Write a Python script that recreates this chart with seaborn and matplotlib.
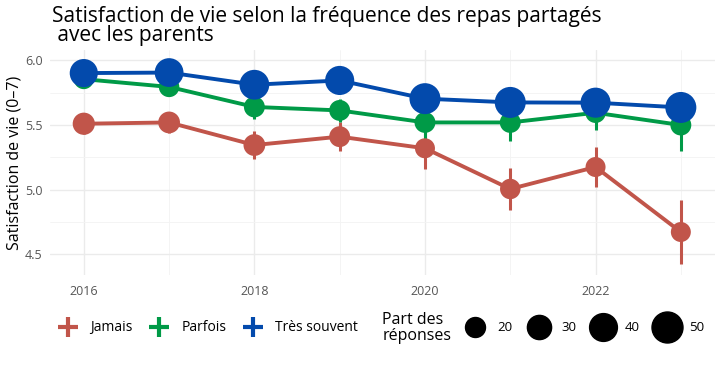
import numpy as np
import pandas as pd
import seaborn as sns
import matplotlib.pyplot as plt
from matplotlib.lines import Line2D

# data
annees = [2016, 2017, 2018, 2019, 2020, 2021, 2022, 2023]
groupes = ["Jamais", "Parfois", "Très souvent"]

score_jamais = [5.51, 5.52, 5.345, 5.41, 5.32, 5.005, 5.175, 4.672]
score_parfois = [5.855, 5.795, 5.64, 5.613, 5.52, 5.52, 5.595, 5.50]
score_souvent = [5.902, 5.906, 5.812, 5.845, 5.704, 5.675, 5.673, 5.636]

ci_jamais = [0.08, 0.08, 0.105, 0.11, 0.16, 0.16, 0.155, 0.25]
ci_parfois = [0.07, 0.07, 0.09, 0.09, 0.14, 0.14, 0.13, 0.2]
ci_souvent = [0.05, 0.05, 0.05, 0.05, 0.05, 0.05, 0.05, 0.05]

part_jamais = [25, 24, 24, 22, 20, 21, 20, 20]
part_parfois = [20, 21, 22, 22, 22, 22, 21, 22]
part_souvent = [41, 43, 46, 44, 50, 53, 47, 50]

legende_tailles = [20, 30, 40, 50]

couleurs = {"Jamais": "#C1554A", "Parfois": "#009A47", "Très souvent": "#034AAC"}

df = pd.DataFrame({
    "annee": annees * 3,
    "score": score_jamais + score_parfois + score_souvent,
    "ci": ci_jamais + ci_parfois + ci_souvent,
    "part": part_jamais + part_parfois + part_souvent,
    "freq": [g for g in groupes for _ in annees],
})

sns.set_theme(style="white")
plt.rcParams["font.family"] = ["Open Sans", "DejaVu Sans"]
plt.rcParams["text.color"] = "black"

fig = plt.figure(figsize=(7.2, 3.71), dpi=100)
ax = fig.add_axes([0.069, 0.259, 0.924, 0.606])

size_range = (207, 498)
size_norm = (20, 50)

# intervalles de confiance
for g in groupes:
    d = df[df["freq"] == g]
    ax.errorbar(d["annee"], d["score"], yerr=d["ci"], fmt="none",
                ecolor=couleurs[g], elinewidth=2.2, capsize=0, zorder=2)

sns.lineplot(data=df, x="annee", y="score", hue="freq", palette=couleurs,
             linewidth=2.8, legend=False, ax=ax, zorder=3)
sns.scatterplot(data=df, x="annee", y="score", hue="freq", palette=couleurs,
                size="part", sizes=size_range, size_norm=size_norm,
                linewidth=0, alpha=1, legend=False, ax=ax, zorder=4)

ax.set_xlim(2015.6, 2023.4)
ax.set_ylim(4.34, 6.08)
ax.set_xticks([2016, 2018, 2020, 2022])
ax.set_xticks([2017, 2019, 2021, 2023], minor=True)
ax.set_yticks([4.5, 5.0, 5.5, 6.0])
ax.set_yticks([4.75, 5.25, 5.75], minor=True)
ax.grid(which="major", color="#EBEBEB", linewidth=1.0)
ax.grid(which="minor", color="#F3F3F3", linewidth=0.6)
for s in ax.spines.values():
    s.set_visible(False)
ax.tick_params(which="both", length=0)
ax.tick_params(axis="x", labelsize=9, labelcolor="#555555", pad=7)
ax.tick_params(axis="y", labelsize=9, labelcolor="#555555", pad=5)
ax.set_xlabel("")
ax.set_ylabel("Satisfaction de vie (0–7)", fontsize=11.5, color="black")
ax.yaxis.set_label_coords(-0.041, 0.5)

fig.text(0.072, 0.985, "Satisfaction de vie selon la fréquence des repas partagés\n avec les parents",
         fontsize=15, va="top", ha="left", linespacing=0.92, color="black")

# legende couleurs
h_col = [Line2D([], [], color=couleurs[g], marker="+", markersize=15, mew=3,
                linestyle="none") for g in groupes]
fig.legend(h_col, groupes, loc="center left", bbox_to_anchor=(0.083, 0.116),
           ncol=3, frameon=False, fontsize=10, handlelength=1.2,
           handletextpad=1.0, columnspacing=1.3, borderpad=0, borderaxespad=0)

# legende tailles
fig.text(0.531, 0.116, "Part des\nréponses", fontsize=11.5, va="center", ha="left",
         linespacing=1.0)
h_size = [Line2D([], [], color="black", marker="o", linestyle="none",
                 markersize=np.sqrt(size_range[0] + (v - 20) * (size_range[1] - size_range[0]) / 30))
          for v in legende_tailles]
fig.legend(h_size, [str(v) for v in legende_tailles], loc="center left",
           bbox_to_anchor=(0.645, 0.116), ncol=4, frameon=False, fontsize=9.5,
           handlelength=1.6, handletextpad=0.9, columnspacing=1.2,
           borderpad=0, borderaxespad=0)

fig.savefig("out.png", dpi=100)
